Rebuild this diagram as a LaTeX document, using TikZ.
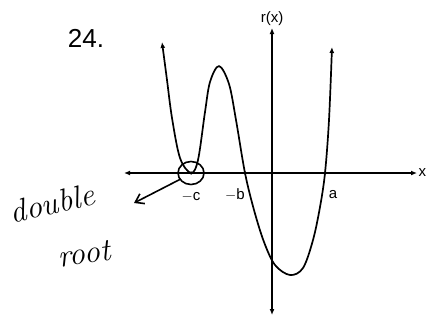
\documentclass[tikz,border=0pt]{standalone}
\usepackage{fontspec}
\setmainfont{Liberation Sans}
\newfontfamily\handfont{Latin Modern Roman}
\usetikzlibrary{arrows.meta,shapes.geometric}

\begin{document}
\begin{tikzpicture}[x=1pt,y=-1pt,line cap=round,line join=round,
  every node/.style={inner sep=1pt},
  axis/.style={line width=1.2pt,{Latex[length=6pt,width=5pt]}-{Latex[length=6pt,width=5pt]}},
  graph/.style={line width=1.7pt,{Latex[length=6pt,width=5pt]}-{Latex[length=6pt,width=5pt]}},
  pen/.style={line width=1.6pt},
  tick/.style={font=\fontsize{15}{15}\selectfont},
  rootdot/.style={circle,fill=black,inner sep=0pt,minimum size=3.5pt}]
  \useasboundingbox (0,0) rectangle (428,324);
  \node (num) at (86,38) {\fontsize{26}{26}\selectfont 24.};
  % axes
  \coordinate (xl) at (124,173);
  \coordinate (xr) at (417,173);
  \coordinate (yt) at (272,28);
  \coordinate (yb) at (272,315);
  \draw[axis] (xl) -- (xr);
  \draw[axis] (yt) -- (yb);
  \node[above=1pt,tick] (rlab) at (yt) {r(x)};
  \node[right=1.5pt,tick,inner sep=0pt] (xlab) at (xr) {x};
  % roots, peak, minimum
  \coordinate (C) at (191,173);
  \coordinate (B) at (245,173);
  \coordinate (A) at (325,173);
  \coordinate (P) at (219,66);
  \coordinate (M) at (290,275);
  \draw[graph] plot[smooth,tension=0.55] coordinates {
    (162,42) (167,80) (172,118) (180,158) (C) (198,160) (205,112) (210,82) (P)
    (229,84) (236,120) (B) (254,210) (264,242) (275,265) (M)
    (303,268) (313,240) (320,207) (A) (329,120) (332,47)};
  \node[rootdot] (c) at (C) {};
  \node[rootdot] (b) at (B) {};
  \node[rootdot] (a) at (A) {};
  \node[tick] (clab) at (191,197) {$-$c};
  \node[tick] (blab) at (235,195) {$-$b};
  \node[tick] (alab) at (333,195) {a};
  % handwritten note
  \node[draw,pen,ellipse,minimum width=26pt,minimum height=23pt,inner sep=0pt] (ring) at (C) {};
  \coordinate (tip) at (134,203);
  \draw[pen,-{Straight Barb[length=8pt,width=11pt]}] (ring.-150) -- (tip);
  \node[rotate=13,inner sep=0pt] (dbl) at (52,203) {\handfont\itshape\fontsize{32}{32}\selectfont double};
  \node[rotate=8,inner sep=0pt] (rt) at (84,254) {\handfont\itshape\fontsize{32}{32}\selectfont root};
\end{tikzpicture}
\end{document}
